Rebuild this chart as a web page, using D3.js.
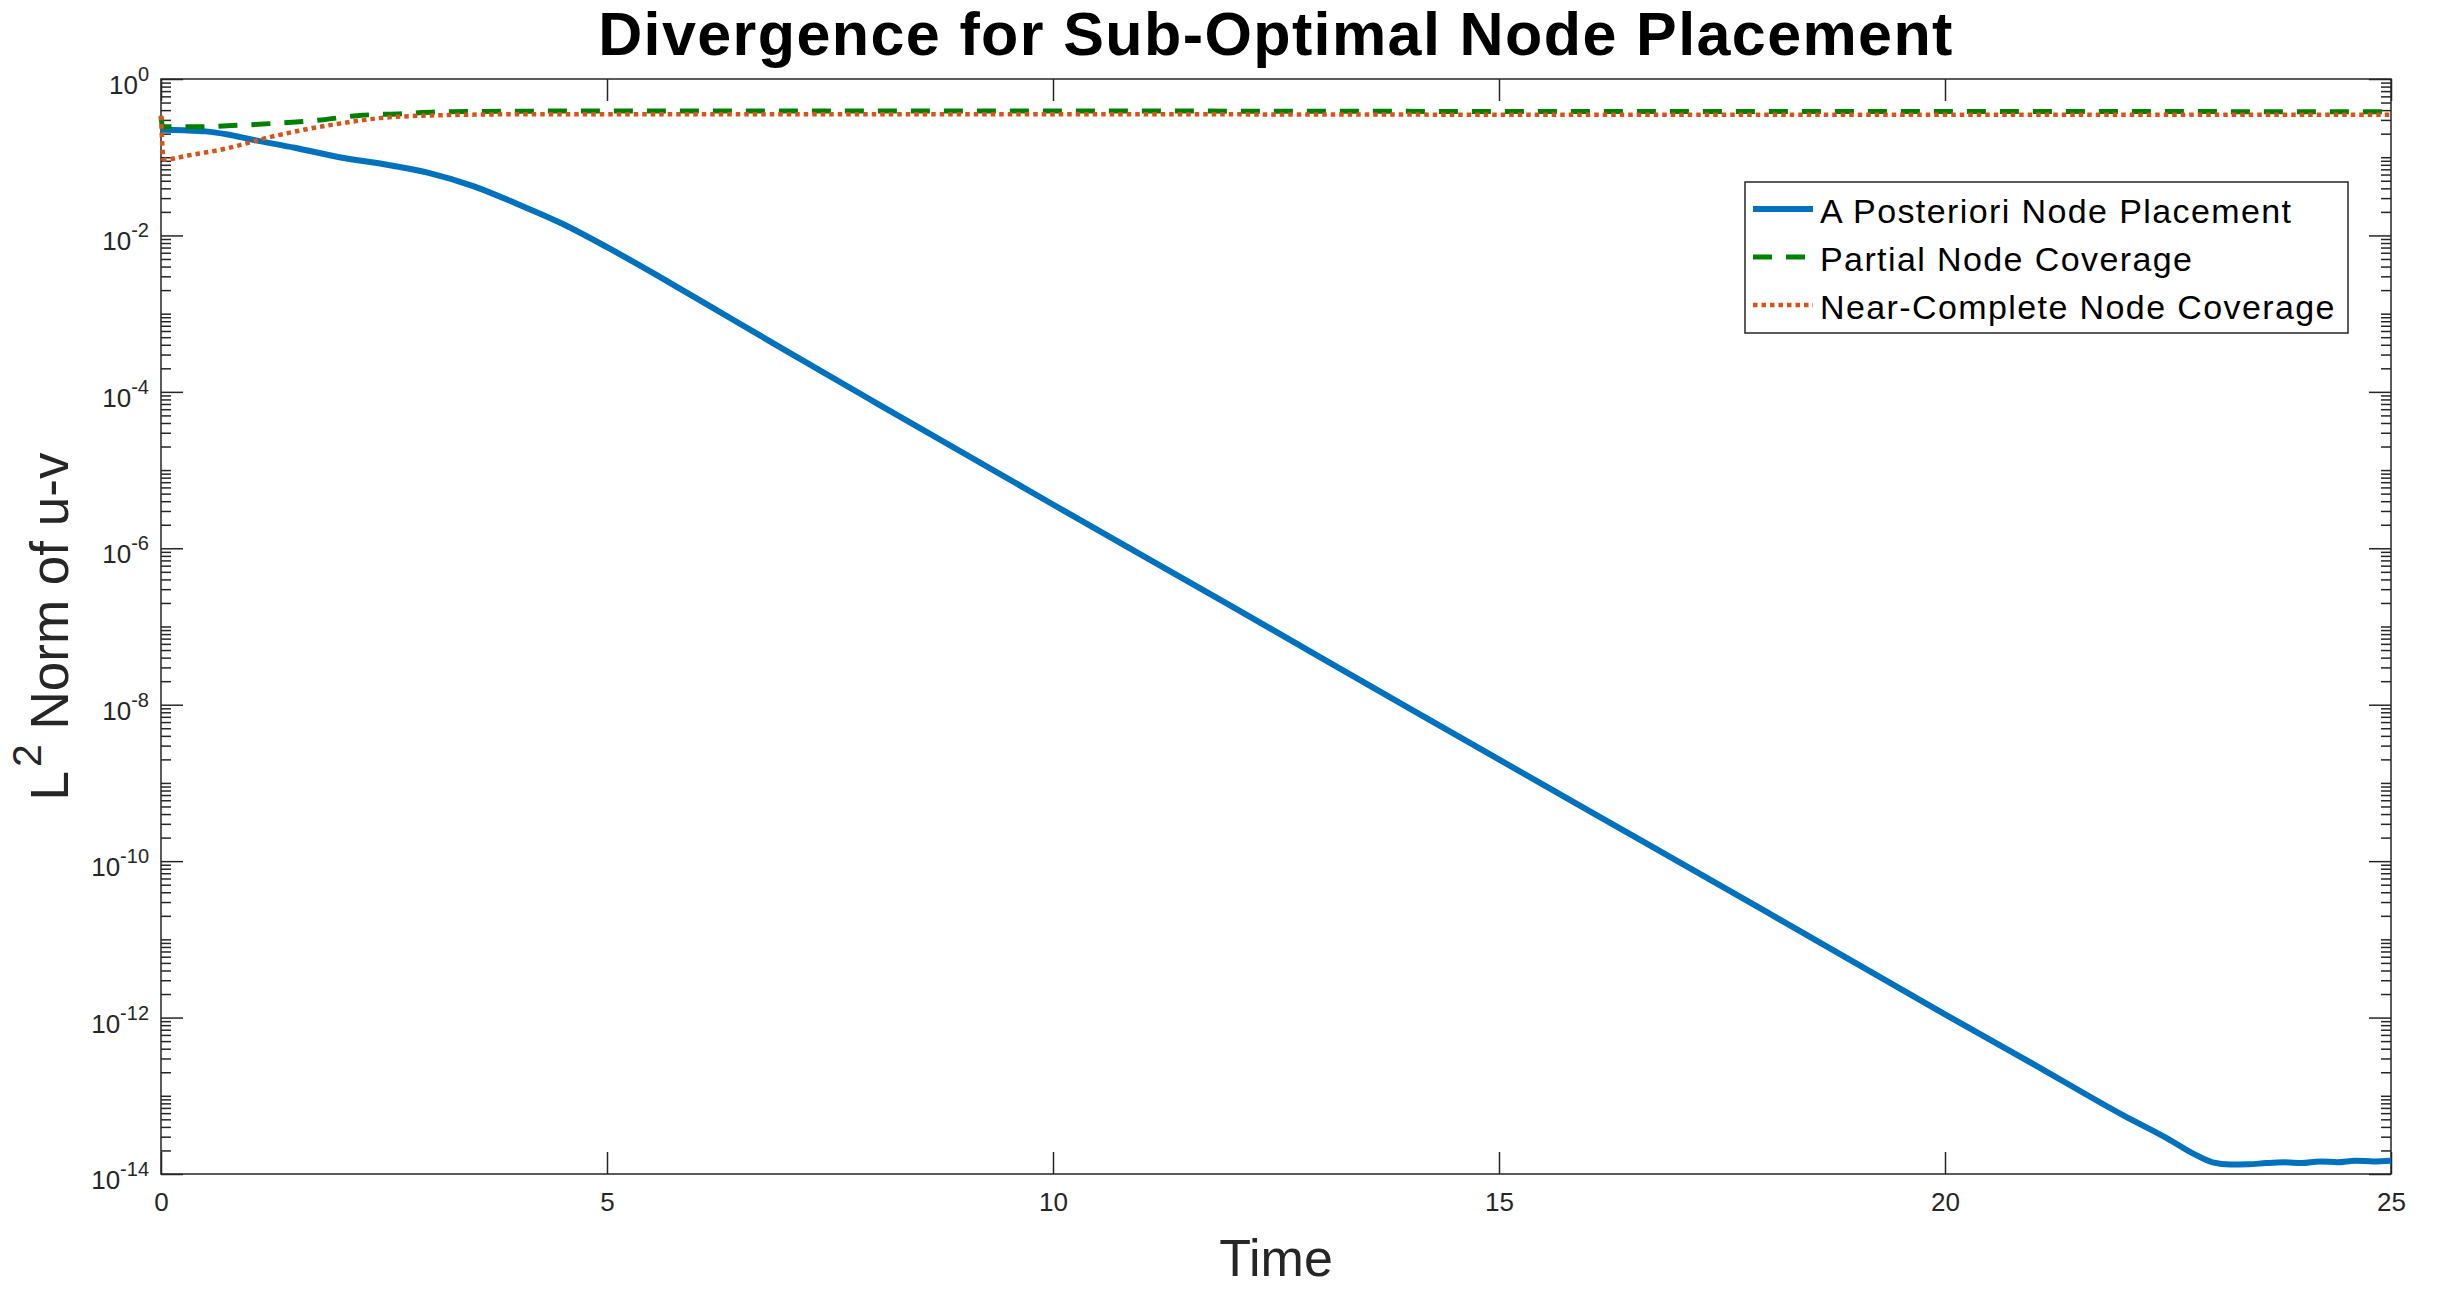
<html>
<meta charset="utf-8">
<head>
<style>
  body { margin: 0; background: #fff; }
  svg text { font-family: "Liberation Sans", Arial, sans-serif; }
</style>
</head>
<body>
<div id="chart"></div>
<script src="https://cdn.jsdelivr.net/npm/d3@7/dist/d3.min.js"></script>
<script>
'use strict';

var WIDTH = 2443, HEIGHT = 1289;
var box = {left: 161, right: 2391, top: 79, bottom: 1174};
var AXIS_COLOR = '#262626';

// A Posteriori Node Placement
var timeA = [0, 0.25, 0.5, 0.75, 1, 1.5, 2, 2.5, 3, 3.5, 4, 4.5, 5, 5.5, 6, 7, 8, 10, 12, 14, 16, 18, 20, 21, 22,
             22.5, 22.8, 23, 23.2, 23.4, 23.6, 23.8, 24, 24.2, 24.4, 24.6, 24.8, 25];
var normA = [0.224, 0.221, 0.214, 0.195, 0.170, 0.132, 0.100, 0.0813, 0.0631, 0.0427, 0.0251, 0.0141, 0.00708,
             0.00339, 0.00158, 3.39e-4, 7.41e-5, 3.63e-6, 1.82e-7, 8.91e-9, 4.47e-10, 2.24e-11, 1.10e-12, 2.51e-13,
             5.62e-14, 2.82e-14, 1.78e-14, 1.41e-14, 1.32e-14, 1.33e-14, 1.38e-14, 1.41e-14, 1.38e-14, 1.45e-14,
             1.41e-14, 1.48e-14, 1.45e-14, 1.48e-14];

// Partial Node Coverage
var timeP = [0, 0.02, 0.4, 0.9, 1.3, 1.8, 2.2, 2.7, 3.1, 3.6, 5, 10, 15, 20, 25];
var normP = [0.33, 0.245, 0.245, 0.257, 0.272, 0.30, 0.34, 0.36, 0.38, 0.385, 0.39, 0.39, 0.385, 0.385, 0.38];

// Near-Complete Node Coverage
var timeN = [0, 0.03, 0.3, 0.73, 1.16, 1.6, 2.0, 2.45, 2.9, 3.3, 4.2, 5, 10, 15, 20, 25];
var normN = [0.34, 0.093, 0.105, 0.129, 0.174, 0.224, 0.269, 0.316, 0.339, 0.347, 0.355, 0.355, 0.355, 0.35, 0.35, 0.35];

var seriesNames = ['A Posteriori Node Placement', 'Partial Node Coverage', 'Near-Complete Node Coverage'];
var seriesColors = ['#0072BD', '#008000', '#D95319'];
var seriesWidths = [6, 5, 4.5];
var seriesDash = [null, '19,14', '4.5,4'];

var xTicks = [0, 5, 10, 15, 20, 25];
var yTickExp = [0, -2, -4, -6, -8, -10, -12, -14];

var x = d3.scaleLinear().domain([0, 25]).range([box.left, box.right]);
var y = d3.scaleLog().domain([1e-14, 1]).range([box.bottom, box.top]);

var majorY = yTickExp.map(function (e) { return Math.pow(10, e); });
var minorY = [];
for (var d = -14; d < 0; d++) {
  for (var k = 1; k < 10; k++) {
    if (k === 1 && d % 2 === 0) continue;
    minorY.push(k * Math.pow(10, d));
  }
}

var svg = d3.select('#chart').append('svg')
  .attr('width', WIDTH)
  .attr('height', HEIGHT);

svg.append('rect').attr('width', WIDTH).attr('height', HEIGHT).attr('fill', '#fff');

// axes (ticks inward, MATLAB style)
function cleanAxis(g) {
  g.select('.domain').remove();
  g.selectAll('.tick line').attr('stroke', AXIS_COLOR).attr('stroke-width', 1.5);
}

svg.append('g')
  .attr('transform', 'translate(0,' + box.bottom + ')')
  .call(d3.axisBottom(x).tickValues(xTicks).tickSize(-22).tickPadding(19).tickFormat(d3.format('d')))
  .call(cleanAxis)
  .selectAll('text')
    .attr('font-size', 26)
    .attr('font-family', '"Liberation Sans", Arial, sans-serif')
    .style('fill', AXIS_COLOR);

svg.append('g')
  .attr('transform', 'translate(0,' + box.top + ')')
  .call(d3.axisTop(x).tickValues(xTicks).tickSize(-22).tickFormat(''))
  .call(cleanAxis);

[[box.left, d3.axisLeft], [box.right, d3.axisRight]].forEach(function (s) {
  svg.append('g')
    .attr('transform', 'translate(' + s[0] + ',0)')
    .call(s[1](y).tickValues(majorY).tickSize(-22).tickFormat(''))
    .call(cleanAxis);
  svg.append('g')
    .attr('transform', 'translate(' + s[0] + ',0)')
    .call(s[1](y).tickValues(minorY).tickSize(-10).tickFormat(''))
    .call(cleanAxis);
});

// y tick labels 10^n
var yLab = svg.append('g').selectAll('text')
  .data(yTickExp)
  .enter().append('text')
    .attr('x', box.left - 12)
    .attr('y', function (e) { return y(Math.pow(10, e)) + 15; })
    .attr('text-anchor', 'end')
    .attr('font-size', 26)
    .style('fill', AXIS_COLOR);
yLab.append('tspan').text('10');
yLab.append('tspan').attr('dy', -13).attr('font-size', 20).text(function (e) { return String(e); });

// box
svg.append('rect')
  .attr('x', box.left).attr('y', box.top)
  .attr('width', box.right - box.left).attr('height', box.bottom - box.top)
  .attr('fill', 'none').attr('stroke', AXIS_COLOR).attr('stroke-width', 1.5);

// lines
var series = [
  {t: timeA, v: normA},
  {t: timeP, v: normP},
  {t: timeN, v: normN}
];
var line = d3.line()
  .x(function (p) { return x(p[0]); })
  .y(function (p) { return y(p[1]); })
  .curve(d3.curveMonotoneX);

series.forEach(function (s, i) {
  svg.append('path')
    .datum(d3.zip(s.t, s.v))
    .attr('d', line)
    .attr('fill', 'none')
    .attr('stroke', seriesColors[i])
    .attr('stroke-width', seriesWidths[i])
    .attr('stroke-linejoin', 'round')
    .attr('stroke-dasharray', seriesDash[i]);
});

// legend
var lg = svg.append('g').attr('transform', 'translate(1745,182)');
lg.append('rect')
  .attr('width', 603).attr('height', 151)
  .attr('fill', '#fff').attr('stroke', AXIS_COLOR).attr('stroke-width', 1.5);
var row = lg.selectAll('g.row').data(seriesNames).enter().append('g')
  .attr('class', 'row')
  .attr('transform', function (n, i) { return 'translate(0,' + (27 + i * 48) + ')'; });
row.append('line')
  .attr('x1', 8).attr('x2', 68)
  .attr('stroke', function (n, i) { return seriesColors[i]; })
  .attr('stroke-width', function (n, i) { return seriesWidths[i]; })
  .attr('stroke-dasharray', function (n, i) { return seriesDash[i]; });
row.append('text')
  .attr('x', 75).attr('y', 14)
  .attr('font-size', 34)
  .attr('letter-spacing', 1.4)
  .style('fill', '#000')
  .text(function (n) { return n; });

// title and axis labels
svg.append('text')
  .attr('x', (box.left + box.right) / 2).attr('y', 55)
  .attr('text-anchor', 'middle')
  .attr('font-size', 61).attr('font-weight', 'bold')
  .attr('letter-spacing', 1.4)
  .style('fill', '#000')
  .text('Divergence for Sub-Optimal Node Placement');

svg.append('text')
  .attr('x', (box.left + box.right) / 2).attr('y', 1276)
  .attr('text-anchor', 'middle')
  .attr('font-size', 52)
  .style('fill', AXIS_COLOR)
  .text('Time');

var yl = svg.append('text')
  .attr('transform', 'translate(68,' + ((box.top + box.bottom) / 2) + ') rotate(-90)')
  .attr('text-anchor', 'middle')
  .attr('font-size', 53)
  .style('fill', AXIS_COLOR);
yl.append('tspan').text('L');
yl.append('tspan').attr('dx', 4).attr('dy', -27).attr('font-size', 41).text('2');
yl.append('tspan').attr('dy', 27).text(' Norm of u-v');
</script>
</body>
</html>
